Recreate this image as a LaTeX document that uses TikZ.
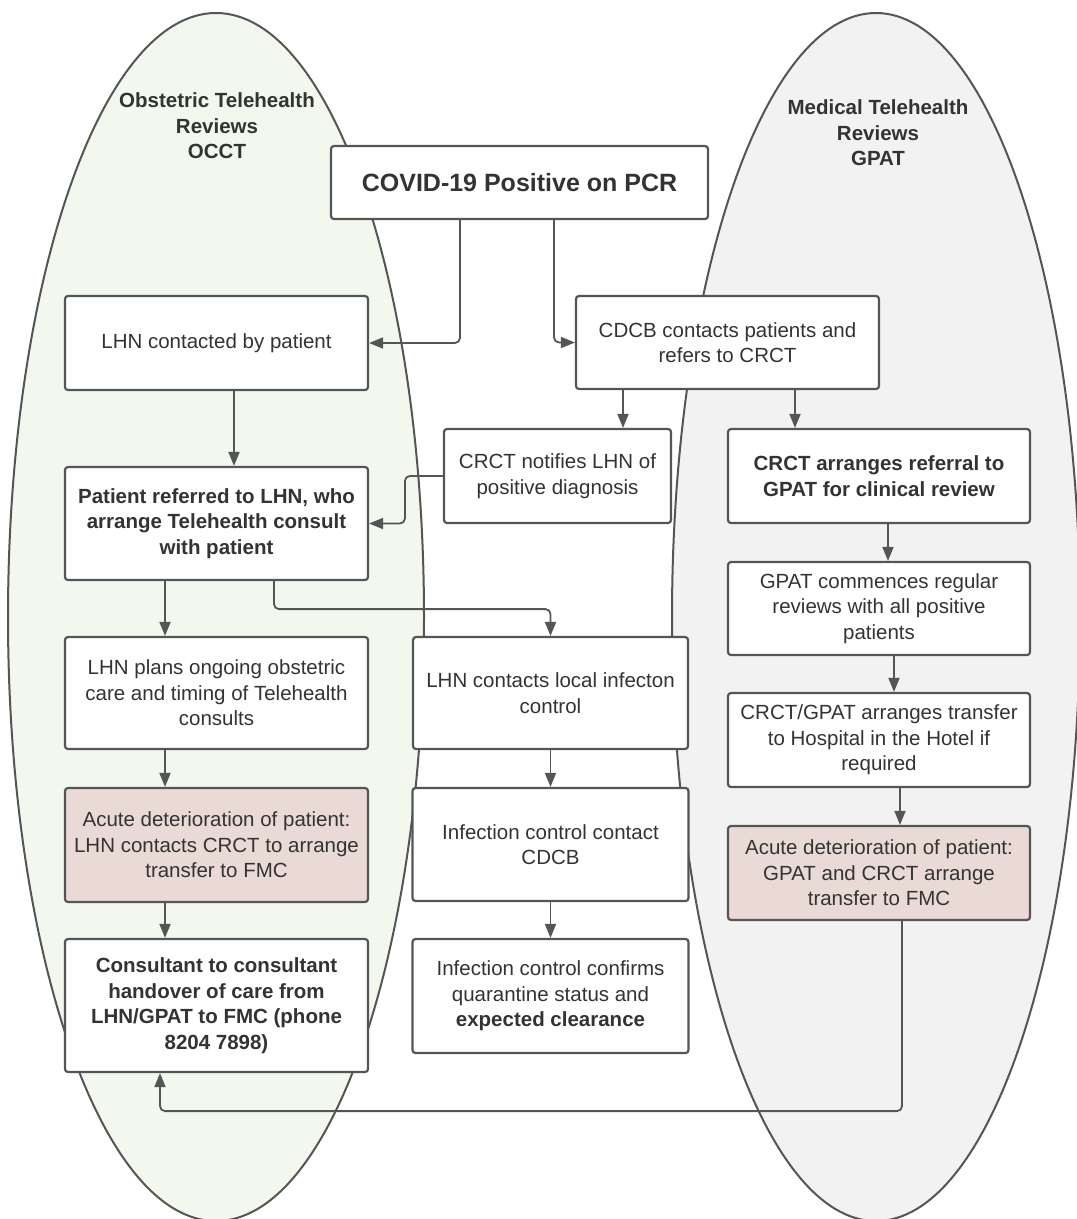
\documentclass[tikz,border=0pt]{standalone}
\usepackage{fontspec}
\setmainfont{Liberation Sans}
\usetikzlibrary{arrows.meta}
\definecolor{linec}{HTML}{555555}
\definecolor{txt}{HTML}{333333}
\definecolor{greenfill}{HTML}{F3F8EF}
\definecolor{grayfill}{HTML}{F2F2F2}
\definecolor{pinkfill}{HTML}{EADAD6}
\begin{document}
\begin{tikzpicture}[x=1pt,y=-1pt,
  box/.style={draw=linec, line width=2.2pt, fill=white, rounded corners=3pt, align=center, text=txt, font=\fontsize{20.5}{25.5}\selectfont, inner sep=2pt},
  pinkbox/.style={box, fill=pinkfill},
  boldbox/.style={box, font=\bfseries\fontsize{20.5}{25.5}\selectfont},
  arr/.style={draw=linec, line width=1.8pt, rounded corners=5pt, -{Triangle[length=14pt,width=11pt]}},
  zone/.style={draw=linec, line width=2pt},
  head/.style={text=txt, align=center, font=\bfseries\fontsize{20.5}{25.5}\selectfont}
]
\useasboundingbox (0,0) rectangle (1077,1219);
\fill[white] (0,0) rectangle (1077,1219);

% zones
\draw[zone, fill=greenfill] (216,617) ellipse [x radius=208pt, y radius=604pt];
\draw[zone, fill=grayfill] (876,617) ellipse [x radius=204pt, y radius=604pt];

\node[head] (occt) at (217,126) {Obstetric Telehealth\\Reviews\\OCCT};
\node[head] (gpath) at (878,133) {Medical Telehealth\\Reviews\\GPAT};

% boxes
\node[box, font=\bfseries\fontsize{25}{30}\selectfont, minimum width=377, minimum height=73] (covid) at (519.5,182.5) {COVID-19 Positive on PCR};
\node[box, minimum width=303, minimum height=94] (lhn1) at (216.5,343) {LHN contacted by patient};
\node[box, minimum width=303, minimum height=93] (cdcb) at (727.5,342.5) {CDCB contacts patients and\\refers to CRCT};
\node[box, minimum width=227, minimum height=94] (notify) at (557.5,476) {CRCT notifies LHN of\\positive diagnosis};
\node[boldbox, minimum width=302, minimum height=94] (arrange) at (879,476) {CRCT arranges referral to\\GPAT for clinical review};
\node[boldbox, minimum width=303, minimum height=113] (patient) at (216.5,523.5) {Patient referred to LHN, who\\arrange Telehealth consult\\with patient};
\node[box, minimum width=302, minimum height=93] (gpat) at (879,608.5) {GPAT commences regular\\reviews with all positive\\patients};
\node[box, minimum width=303, minimum height=112] (plans) at (216.5,693) {LHN plans ongoing obstetric\\care and timing of Telehealth\\consults};
\node[box, minimum width=275, minimum height=112] (local) at (550.5,693) {LHN contacts local infecton\\control};
\node[box, minimum width=302, minimum height=94] (hith) at (879,740) {CRCT/GPAT arranges transfer\\to Hospital in the Hotel if\\required};
\node[pinkbox, minimum width=303, minimum height=114] (acuteL) at (216.5,845) {Acute deterioration of patient:\\LHN contacts CRCT to arrange\\transfer to FMC};
\node[box, minimum width=276, minimum height=113] (infect1) at (550.5,844.5) {Infection control contact\\CDCB};
\node[pinkbox, minimum width=302, minimum height=94] (acuteR) at (879,873) {Acute deterioration of patient:\\GPAT and CRCT arrange\\transfer to FMC};
\node[boldbox, minimum width=303, minimum height=133] (consult) at (216.5,1005.5) {Consultant to consultant\\handover of care from\\LHN/GPAT to FMC (phone\\8204 7898)};
\node[box, minimum width=276, minimum height=114] (infect2) at (550.5,996) {Infection control confirms\\quarantine status and\\\textbf{expected clearance}};

% connector start points
\coordinate (s1) at ([xshift=-59.5pt]covid.south);
\coordinate (s2) at ([xshift=34.5pt]covid.south);
\coordinate (s3) at ([xshift=-104.5pt]cdcb.south);
\coordinate (s4) at ([xshift=67.5pt]cdcb.south);
\coordinate (s6) at ([xshift=17.5pt]lhn1.south);
\coordinate (s7) at ([xshift=-51.5pt]patient.south);
\coordinate (s8) at ([xshift=57.5pt]patient.south);
\coordinate (s9) at ([xshift=-51.5pt]plans.south);
\coordinate (s10) at ([xshift=-51.5pt]acuteL.south);
\coordinate (s13) at ([xshift=9pt]arrange.south);
\coordinate (s14) at ([xshift=15pt]gpat.south);
\coordinate (s15) at ([xshift=21pt]hith.south);
\coordinate (s16) at ([xshift=23pt]acuteR.south);
\coordinate (e16) at ([xshift=-56.5pt]consult.south);

% connectors
\draw[arr] (s1) |- (lhn1.east);
\draw[arr] (s2) |- (cdcb.west);
\draw[arr] (s3) -- (s3 |- notify.north);
\draw[arr] (s4) -- (s4 |- arrange.north);
\draw[arr] (notify.west) -- ++(-38,0) |- (patient.east);
\draw[arr] (s6) -- (s6 |- patient.north);
\draw[arr] (s7) -- (s7 |- plans.north);
\draw[arr] (s8) -- ++(0,28) -| (local.north);
\draw[arr] (s9) -- (s9 |- acuteL.north);
\draw[arr] (s10) -- (s10 |- consult.north);
\draw[arr] (local.south) -- (infect1.north);
\draw[arr] (infect1.south) -- (infect2.north);
\draw[arr] (s13) -- (s13 |- gpat.north);
\draw[arr] (s14) -- (s14 |- hith.north);
\draw[arr] (s15) -- (s15 |- acuteR.north);
\draw[arr] (s16) -- ++(0,190) -| (e16);
\end{tikzpicture}
\end{document}
